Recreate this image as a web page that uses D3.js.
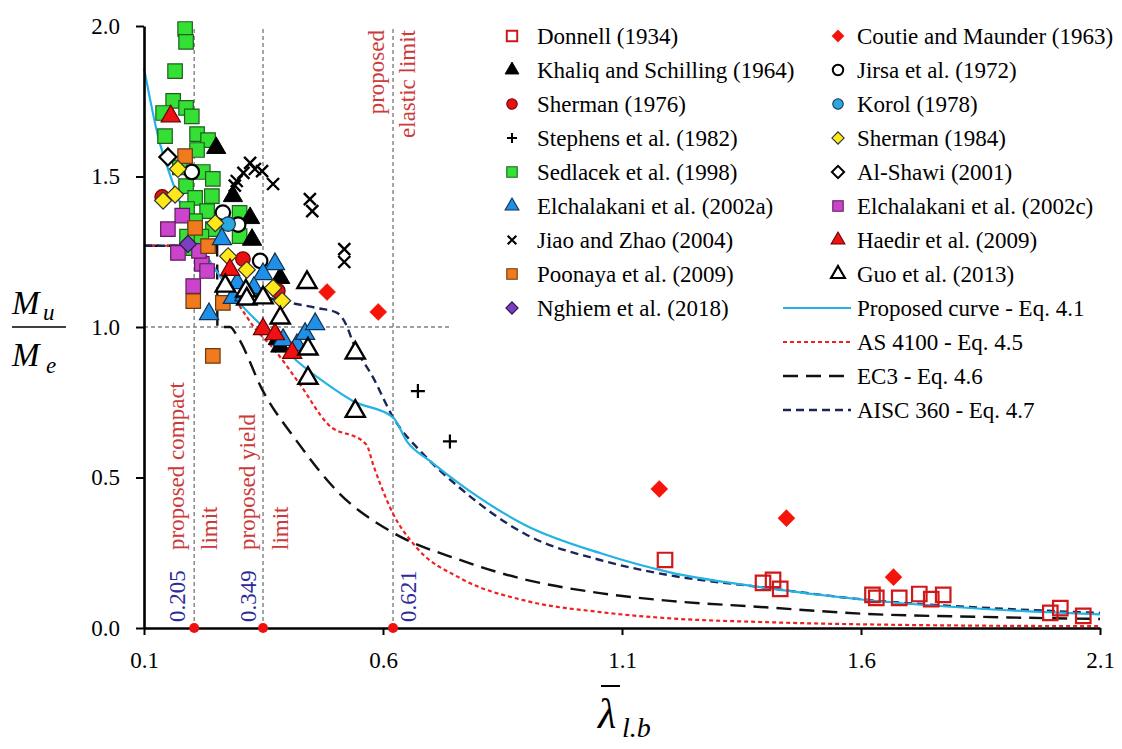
<!DOCTYPE html>
<html><head><meta charset="utf-8">
<script src="https://cdn.jsdelivr.net/npm/d3@7"></script>
<style>
body{margin:0;background:#fff}
svg text{font-family:"Liberation Serif","Tinos","Times New Roman","DejaVu Serif","Noto Serif","Noto Serif CJK SC",serif !important}
</style>
</head><body>
<svg id="c" width="1122" height="749"></svg>
<script>
// ---------- DATA ----------
const xTicks = [0.1, 0.6, 1.1, 1.6, 2.1];
const yTicks = [0.0, 0.5, 1.0, 1.5, 2.0];
const limits = [0.205, 0.349, 0.621];
const limitLabels = ["0.205", "0.349", "0.621"];

const donnell = [[1.19,0.226],[1.395,0.15],[1.416,0.16],[1.431,0.13],[1.624,0.11],[1.632,0.10],[1.68,0.10],[1.722,0.113],[1.747,0.096],[1.772,0.11],[1.996,0.05],[2.017,0.066],[2.065,0.04]];
const coutie = [[0.483,1.116],[0.59,1.05],[1.178,0.462],[1.444,0.365],[1.668,0.169]];
const khaliq = [[0.251,1.595],[0.286,1.435],[0.322,1.362],[0.326,1.29],[0.385,1.163],[0.38,0.96],[0.385,0.935]];
const jirsa = [[0.20,1.515],[0.265,1.38],[0.297,1.34],[0.343,1.22]];
const sherman76 = [[0.138,1.432],[0.307,1.226],[0.38,1.12]];
const korol = [[0.276,1.342]];
const stephens = [[0.673,0.787],[0.74,0.62]];
const sherman84 = [[0.171,1.525],[0.14,1.42],[0.165,1.44],[0.249,1.345],[0.276,1.235],[0.315,1.19],[0.37,1.13],[0.389,1.087]];
const sedlacek = [[0.186,1.99],[0.188,1.947],[0.165,1.85],[0.161,1.751],[0.14,1.711],[0.188,1.728],[0.2,1.70],[0.144,1.634],[0.211,1.641],[0.234,1.621],[0.211,1.588],[0.223,1.515],[0.244,1.492],[0.188,1.468],[0.207,1.429],[0.242,1.435],[0.19,1.392],[0.232,1.385],[0.207,1.352],[0.244,1.325],[0.30,1.379],[0.30,1.302],[0.203,1.262],[0.175,1.53],[0.22,1.30],[0.19,1.30]];
const alshawi = [[0.15,1.565]];
const elchA = [[0.263,1.292],[0.295,1.146],[0.374,1.209],[0.349,1.176],[0.33,1.13],[0.236,1.043],[0.286,1.097],[0.391,0.957],[0.42,0.94],[0.437,0.977],[0.458,1.01],[0.31,1.105]];
const elchC = [[0.18,1.37],[0.15,1.325],[0.171,1.246],[0.221,1.21],[0.232,1.186],[0.203,1.136],[0.215,1.253]];
const jiao = [[0.29,1.47],[0.294,1.485],[0.308,1.512],[0.322,1.545],[0.332,1.525],[0.347,1.518],[0.37,1.475],[0.447,1.425],[0.452,1.385],[0.519,1.259],[0.519,1.216]];
const haedir = [[0.156,1.70],[0.28,1.19],[0.349,0.993],[0.374,0.976],[0.41,0.914]];
const poonaya = [[0.186,1.568],[0.207,1.329],[0.234,1.269],[0.203,1.086],[0.244,0.904],[0.265,1.08]];
const guo = [[0.27,1.136],[0.313,1.12],[0.315,1.093],[0.349,1.097],[0.441,1.148],[0.385,1.03],[0.443,0.927],[0.443,0.83],[0.542,0.914],[0.542,0.72]];
const nghiem = [[0.192,1.276]];

const proposedCurve = [[0.1,1.86],[0.13,1.63],[0.16,1.48],[0.2,1.32],[0.25,1.19],[0.3,1.08],[0.349,1.0],[0.42,0.887],[0.483,0.81],[0.537,0.754],[0.621,0.70],[0.65,0.62],[0.698,0.555],[0.761,0.478],[0.9,0.34],[1.054,0.249],[1.2,0.185],[1.389,0.136],[1.61,0.093],[1.85,0.064],[2.1,0.045]];
const as4100Curve = [[0.1,1.27],[0.205,1.27],[0.25,1.19],[0.30,1.07],[0.33,1.0],[0.37,0.93],[0.426,0.81],[0.483,0.68],[0.565,0.61],[0.58,0.54],[0.621,0.38],[0.671,0.266],[0.761,0.166],[0.9,0.09],[1.054,0.053],[1.2,0.032],[1.389,0.02],[1.7,0.01],[2.1,0.006]];
const ec3Curve = [[0.1,1.27],[0.253,1.27],[0.2535,1.0],[0.28,1.0],[0.295,0.97],[0.349,0.787],[0.42,0.62],[0.51,0.445],[0.615,0.322],[0.761,0.226],[0.9,0.16],[1.054,0.116],[1.2,0.09],[1.389,0.07],[1.61,0.047],[1.85,0.037],[2.1,0.03]];
const aiscCurve = [[0.1,1.27],[0.2,1.27],[0.25,1.19],[0.3,1.13],[0.39,1.086],[0.462,1.063],[0.504,1.047],[0.515,1.03],[0.525,1.0],[0.537,0.95],[0.58,0.83],[0.621,0.70],[0.684,0.578],[0.761,0.465],[0.9,0.31],[1.054,0.226],[1.2,0.175],[1.389,0.136],[1.61,0.094],[1.85,0.068],[2.1,0.05]];

const leftLegend = ["Donnell (1934)","Khaliq and Schilling (1964)","Sherman (1976)","Stephens et al. (1982)","Sedlacek et al. (1998)","Elchalakani et al. (2002a)","Jiao and Zhao (2004)","Poonaya et al. (2009)","Nghiem et al. (2018)"];
const rightLegend = ["Coutie and Maunder (1963)","Jirsa et al. (1972)","Korol (1978)","Sherman (1984)","Al-Shawi (2001)","Elchalakani et al. (2002c)","Haedir et al. (2009)","Guo et al. (2013)"];
const lineLegend = ["Proposed curve - Eq. 4.1","AS 4100 - Eq. 4.5","EC3 - Eq. 4.6","AISC 360 - Eq. 4.7"];

// ---------- STYLES ----------
const FONT = '"Liberation Serif","Tinos","Times New Roman","DejaVu Serif","Noto Serif",serif';
const S = {
  donnell:{t:"square",fill:"none",stroke:"#D01818",sw:2.2},
  coutie:{t:"diamond",fill:"#F5140A",stroke:"#F5140A",sw:0.5},
  khaliq:{t:"tri",fill:"#000",stroke:"#000",sw:1},
  jirsa:{t:"circle",fill:"#fff",stroke:"#000",sw:2.2},
  sherman76:{t:"circle",fill:"#E81010",stroke:"#6A0000",sw:1.2},
  korol:{t:"circle",fill:"#2AA8E0",stroke:"#1A2F4A",sw:1.2},
  stephens:{t:"plus",fill:"none",stroke:"#000",sw:2.2},
  sherman84:{t:"diamond",fill:"#FFE81A",stroke:"#333",sw:1.2},
  sedlacek:{t:"square",fill:"#33E033",stroke:"#1F5F1F",sw:1.2},
  alshawi:{t:"diamond",fill:"#fff",stroke:"#000",sw:2.2},
  elchA:{t:"tri",fill:"#1E90E8",stroke:"#12304F",sw:1.2},
  elchC:{t:"square",fill:"#CC44CC",stroke:"#5A1F5A",sw:1.2},
  jiao:{t:"x",fill:"none",stroke:"#000",sw:2.4},
  haedir:{t:"tri",fill:"#EE1111",stroke:"#6A0000",sw:1.2},
  poonaya:{t:"square",fill:"#F07A1E",stroke:"#6A3A10",sw:1.2},
  guo:{t:"tri",fill:"#fff",stroke:"#000",sw:2.4},
  nghiem:{t:"diamond",fill:"#7B3FBF",stroke:"#2E1650",sw:1.2}
};

const svg = d3.select("#c").attr("font-family", FONT);
const x = d3.scaleLinear().domain([0.1, 2.1]).range([144, 1100]);
const y = d3.scaleLinear().domain([0, 2]).range([628, 26]);

function markerPath(t, k){
  if(t==="square") return d3.symbol(d3.symbolSquare, 210*k*k)();
  if(t==="circle") return d3.symbol(d3.symbolCircle, 165*k*k)();
  if(t==="tri") return d3.symbol(d3.symbolTriangle, 160*k*k)();
  if(t==="diamond") return d3.symbol(d3.symbolSquare, 145*k*k)();
  if(t==="plus"){const s=7*k;return `M${-s},0H${s}M0,${-s}V${s}`;}
  if(t==="x"){const s=6*k;return `M${-s},${-s}L${s},${s}M${-s},${s}L${s},${-s}`;}
}
function drawMarker(g, st, cx, cy, k){
  g.append("path").attr("d", markerPath(st.t,k))
   .attr("transform", `translate(${cx},${cy})` + (st.t==="diamond"?" rotate(45)":""))
   .attr("fill", st.fill).attr("stroke", st.stroke).attr("stroke-width", st.sw*(k<1?0.9:1));
}

// reference lines
const ref = svg.append("g").attr("stroke","#808080").attr("stroke-width",1.4).attr("stroke-dasharray","4,3").attr("fill","none");
ref.append("line").attr("x1",x(0.1)).attr("x2",x(0.74)).attr("y1",y(1)).attr("y2",y(1));
limits.forEach(v=>{
  ref.append("line").attr("x1",x(v)).attr("x2",x(v)).attr("y1",y(0)).attr("y2",y(2));
});

// curves
const line = d3.line().x(d=>x(d[0])).y(d=>y(d[1])).curve(d3.curveMonotoneX);
const curves = [
  {d:ec3Curve, c:"#111", w:2.4, dash:"15,8"},
  {d:as4100Curve, c:"#EE2020", w:2.2, dash:"4,3"},
  {d:aiscCurve, c:"#1A2558", w:2.4, dash:"8,5"},
  {d:proposedCurve, c:"#22B2E4", w:2.2, dash:null}
];
curves.forEach(cv=>{
  svg.append("path").attr("d", line(cv.d)).attr("fill","none").attr("stroke",cv.c)
    .attr("stroke-width",cv.w).attr("stroke-dasharray",cv.dash);
});

// markers
const order = [
  ["sedlacek",sedlacek],["donnell",donnell],["coutie",coutie],["khaliq",khaliq],
  ["jirsa",jirsa],["korol",korol],["stephens",stephens],["elchC",elchC],["poonaya",poonaya],
  ["sherman76",sherman76],["sherman84",sherman84],["alshawi",alshawi],["nghiem",nghiem],
  ["elchA",elchA],["haedir",haedir],["jiao",jiao],["guo",guo]
];
const mg = svg.append("g");
order.forEach(([k,arr])=>{
  arr.forEach(d=>drawMarker(mg, S[k], x(d[0]), y(d[1]), 1));
});

// axes
const xAxis = svg.append("g").attr("transform",`translate(0,${y(0)})`)
  .call(d3.axisBottom(x).tickValues(xTicks).tickFormat(d3.format(".1f")).tickSize(7).tickSizeOuter(0).tickPadding(17));
const yAxis = svg.append("g").attr("transform",`translate(${x(0.1)},0)`)
  .call(d3.axisLeft(y).tickValues(yTicks).tickFormat(d3.format(".1f")).tickSize(8).tickSizeOuter(0).tickPadding(16));
[xAxis,yAxis].forEach(a=>{
  a.attr("font-family", FONT).attr("font-size", 23);
  a.select(".domain").attr("stroke","#000").attr("stroke-width",2.6);
  a.selectAll(".tick line").attr("stroke","#000").attr("stroke-width",2);
  a.selectAll(".tick text").attr("font-size",23).attr("fill","#000");
});

// red dots at limits
svg.append("g").selectAll("circle").data(limits).join("circle")
  .attr("cx",d=>x(d)).attr("cy",y(0)).attr("r",5).attr("fill","#F01010");

// rotated annotations
function rot(txt, bx, by, anchor, color){
  svg.append("text").attr("transform",`translate(${bx},${by}) rotate(-90)`)
    .attr("text-anchor",anchor).attr("font-size",23).attr("fill",color).text(txt);
}
const red = "#CC3A3A", blue = "#2A2A9A";
rot(limitLabels[0], x(limits[0])-9, 622, "start", blue);
rot(limitLabels[1], x(limits[1])-7, 622, "start", blue);
rot(limitLabels[2], x(limits[2])+23, 622, "start", blue);
rot("proposed compact", x(limits[0])-10, 550, "start", red);
rot("limit", x(limits[0])+23, 550, "start", red);
rot("proposed yield", x(limits[1])-8, 550, "start", red);
rot("limit", x(limits[1])+25, 550, "start", red);
rot("proposed", x(limits[2])-9, 30, "end", red);
rot("elastic limit", x(limits[2])+22, 30, "end", red);

// y-axis label (fraction)
const yl = svg.append("g");
yl.append("text").attr("x",12).attr("y",314).attr("font-size",33).attr("font-style","italic").text("M");
yl.append("text").attr("x",43).attr("y",320).attr("font-size",23).attr("font-style","italic").text("u");
yl.append("line").attr("x1",12).attr("x2",66).attr("y1",327).attr("y2",327).attr("stroke","#000").attr("stroke-width",1.6);
yl.append("text").attr("x",12).attr("y",366).attr("font-size",33).attr("font-style","italic").text("M");
yl.append("text").attr("x",46).attr("y",373).attr("font-size",23).attr("font-style","italic").text("e");

// x-axis label
const xl = svg.append("g");
xl.append("text").attr("x",598).attr("y",728).attr("font-size",42).attr("font-style","italic").text("λ");
xl.append("line").attr("x1",601).attr("x2",620).attr("y1",686).attr("y2",686).attr("stroke","#000").attr("stroke-width",2);
xl.append("text").attr("x",622).attr("y",737).attr("font-size",28).attr("font-style","italic").text("l.b");

// legend
const lg = svg.append("g");
const rowY = i => 36 + 34*i;
const leftKeys = ["donnell","khaliq","sherman76","stephens","sedlacek","elchA","jiao","poonaya","nghiem"];
const rightKeys = ["coutie","jirsa","korol","sherman84","alshawi","elchC","haedir","guo"];
leftLegend.forEach((name,i)=>{
  drawMarker(lg, S[leftKeys[i]], 512, rowY(i), 0.72);
  lg.append("text").attr("x",537).attr("y",rowY(i)).attr("dy","0.33em").attr("font-size",23).text(name);
});
rightLegend.forEach((name,i)=>{
  drawMarker(lg, S[rightKeys[i]], 838, rowY(i), 0.72);
  lg.append("text").attr("x",857).attr("y",rowY(i)).attr("dy","0.33em").attr("font-size",23).text(name);
});
const lineStyles = [curves[3], curves[1], curves[0], curves[2]];
lineLegend.forEach((name,i)=>{
  const yy = rowY(8+i);
  const st = lineStyles[i];
  lg.append("line").attr("x1",783).attr("x2",851).attr("y1",yy).attr("y2",yy)
    .attr("stroke",st.c).attr("stroke-width",st.w).attr("stroke-dasharray",st.dash);
  lg.append("text").attr("x",857).attr("y",yy).attr("dy","0.33em").attr("font-size",23).text(name);
});
</script>
</body></html>
